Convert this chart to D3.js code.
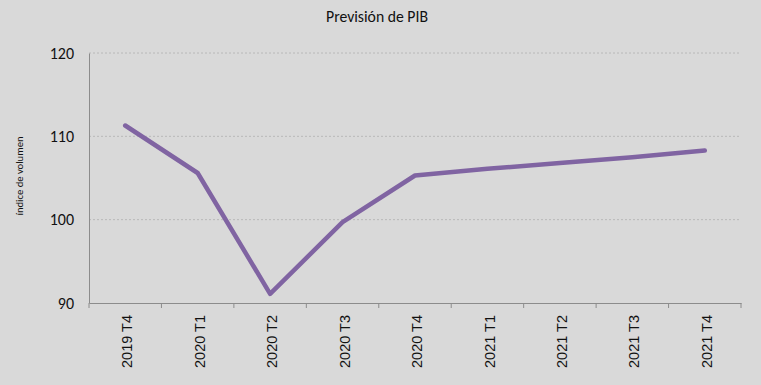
<!DOCTYPE html>
<html><head><meta charset="utf-8">
<script src="https://cdn.jsdelivr.net/npm/d3@7"></script>
<style>body{margin:0;background:#d9d9d9;}svg{display:block;}</style>
</head><body>
<script>
const categories = ["2019 T4","2020 T1","2020 T2","2020 T3","2020 T4","2021 T1","2021 T2","2021 T3","2021 T4"];
const values = [111.3, 105.6, 91.1, 99.7, 105.3, 106.1, 106.8, 107.5, 108.3];
const yTicks = [90, 100, 110, 120];
const title = "Previsión de PIB";
const yTitle = "índice de volumen";

const W = 761, H = 385;
const m = {left: 89, right: 20, top: 53, bottom: 82};
const svg = d3.select("body").append("svg").attr("width", W).attr("height", H);
svg.append("rect").attr("width", W).attr("height", H).attr("fill", "#d9d9d9");

const calFont = "Carlito, Lato, 'Open Sans', sans-serif";
function fit(sel, target) {
  const n = sel.node();
  const w = n.getComputedTextLength();
  const fs = parseFloat(sel.attr("font-size"));
  if (w > 0) sel.attr("font-size", (fs * target / w).toFixed(2));
}

const x = d3.scaleBand().domain(categories).range([m.left, W - m.right]);
const y = d3.scaleLinear().domain([90, 120]).range([H - m.bottom, m.top]);

// grid
svg.append("g").selectAll("line").data(yTicks.filter(t => t > 90)).join("line")
  .attr("x1", m.left).attr("x2", W - m.right)
  .attr("y1", d => y(d)).attr("y2", d => y(d))
  .attr("stroke", "#b8b8b8").attr("stroke-width", 1).attr("stroke-dasharray", "2,2");

// y axis
const ya = svg.append("g").attr("transform", `translate(${m.left},0)`)
  .call(d3.axisLeft(y).tickValues(yTicks).tickSize(0).tickPadding(15));
ya.select(".domain").attr("stroke", "#8c8c8c");
ya.selectAll("text").attr("font-family", calFont).attr("font-size", 16).attr("fill", "#111");

// x axis
const xa = svg.append("g").attr("transform", `translate(0,${H - m.bottom})`)
  .call(d3.axisBottom(x).tickSize(0).tickPadding(0));
xa.select(".domain").attr("stroke", "#8c8c8c");
xa.selectAll(".tick line").remove();
xa.selectAll("text")
  .attr("font-family", "'Liberation Sans', Arial, sans-serif").attr("font-size", 14).attr("fill", "#111")
  .attr("transform", "rotate(-90)").attr("text-anchor", "end")
  .attr("x", -12).attr("y", 2).attr("dy", "0.35em");
{
  const t = xa.selectAll("text").filter(d => d === "2019 T4");
  fit(t, 53);
  xa.selectAll("text").attr("font-size", t.attr("font-size"));
}
// tick marks between categories
const bounds = categories.map(c => x(c)).concat([x(categories[categories.length-1]) + x.bandwidth()]);
svg.append("g").selectAll("line").data(bounds).join("line")
  .attr("x1", d => d).attr("x2", d => d)
  .attr("y1", H - m.bottom).attr("y2", H - m.bottom + 5)
  .attr("stroke", "#8c8c8c");

// line
const line = d3.line().x((d, i) => x(categories[i]) + x.bandwidth() / 2).y(d => y(d));
svg.append("path").datum(values).attr("d", line)
  .attr("fill", "none").attr("stroke", "#8064a2").attr("stroke-width", 4.5)
  .attr("stroke-linejoin", "round").attr("stroke-linecap", "round");

// title
const tt = svg.append("text").attr("x", 377).attr("y", 22).attr("text-anchor", "middle")
  .attr("font-family", calFont).attr("font-size", 13).attr("fill", "#111").text(title);
fit(tt, 102);

// y title
const yt = svg.append("text").attr("transform", `translate(23,176) rotate(-90)`)
  .attr("text-anchor", "middle").attr("font-family", calFont).attr("font-size", 9).attr("fill", "#111").text(yTitle);
fit(yt, 79);
</script>
</body></html>
